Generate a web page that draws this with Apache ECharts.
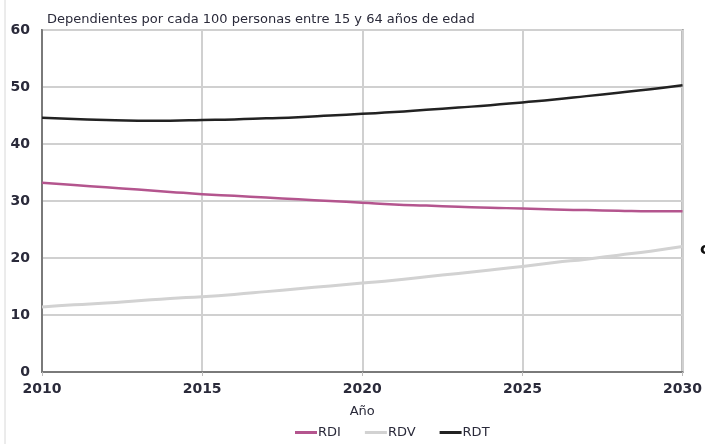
<!DOCTYPE html>
<html>
<head>
<meta charset="utf-8">
<script src="https://cdn.jsdelivr.net/npm/echarts@6/dist/echarts.min.js"></script>
<style>
  html, body { margin: 0; padding: 0; background: #fff; }
  #main { width: 705px; height: 444px; }
</style>
</head>
<body>
<div id="main"></div>
<script>
// años y series
var years = [2010, 2011, 2012, 2013, 2014, 2015, 2016, 2017, 2018, 2019, 2020,
             2021, 2022, 2023, 2024, 2025, 2026, 2027, 2028, 2029, 2030];
var rdi = [33.2, 32.8, 32.4, 32.0, 31.6, 31.2, 30.9, 30.6, 30.3, 30.0, 29.7,
           29.4, 29.2, 29.0, 28.8, 28.7, 28.5, 28.4, 28.3, 28.2, 28.2];
var rdv = [11.4, 11.8, 12.1, 12.5, 12.9, 13.2, 13.6, 14.1, 14.6, 15.1, 15.6,
           16.1, 16.7, 17.3, 17.9, 18.5, 19.2, 19.8, 20.5, 21.2, 22.0];
var rdt = [44.6, 44.4, 44.2, 44.1, 44.1, 44.2, 44.3, 44.5, 44.7, 45.0, 45.3,
           45.6, 46.0, 46.4, 46.8, 47.3, 47.8, 48.4, 49.0, 49.6, 50.3];
var seriesNames = ['RDI', 'RDV', 'RDT'];
var lineColor = ['#b4558e', '#d2d2d2', '#222222'];

function pairs(vals) {
    return years.map(function (y, i) { return [y, vals[i]]; });
}

var myChart = echarts.init(document.getElementById('main'));
var font = 'DejaVu Sans';

var series = [rdi, rdv, rdt].map(function (vals, i) {
    return {
        name: seriesNames[i],
        type: 'line',
        smooth: true,
        symbol: 'none',
        data: pairs(vals),
        lineStyle: { color: lineColor[i], width: i === 1 ? 3 : 2.5 },
        itemStyle: { color: lineColor[i] }
    };
});

var option = {
    backgroundColor: '#fff',
    animation: false,
    title: {
        text: 'Dependientes por cada 100 personas entre 15 y 64 años de edad',
        left: 42,
        top: 8,
        textStyle: { fontFamily: font, fontSize: 13, fontWeight: 'normal', color: '#2a2a3a' }
    },
    grid: {
        left: 42, right: 22, top: 30, bottom: 72,
        show: true,
        borderColor: '#7a7a7a',
        borderWidth: 2
    },
    legend: {
        data: seriesNames,
        bottom: 0,
        left: 290,
        icon: 'rect',
        itemWidth: 22,
        itemHeight: 3,
        itemGap: 24,
        textStyle: { fontFamily: font, fontSize: 13, color: '#2a2a3a', padding: [0, 0, 0, -4] }
    },
    xAxis: {
        type: 'value',
        min: 2010,
        max: 2030,
        interval: 5,
        name: 'Año',
        nameLocation: 'middle',
        nameGap: 33,
        nameTextStyle: { fontFamily: font, fontSize: 13, color: '#2a2a3a' },
        axisLine: { show: true, lineStyle: { color: '#7a7a7a', width: 2 } },
        axisTick: { show: true, length: 4, lineStyle: { color: '#bbb' } },
        axisLabel: {
            fontFamily: font, fontSize: 14, fontWeight: 'bold', color: '#2a2a3a', margin: 10,
            formatter: function (v) { return String(v); }
        },
        splitLine: { show: true, lineStyle: { color: '#d0d0d0', width: 2 } }
    },
    yAxis: {
        type: 'value',
        min: 0,
        max: 60,
        interval: 10,
        axisLine: { show: true, lineStyle: { color: '#7a7a7a', width: 2 } },
        axisTick: { show: false },
        axisLabel: { fontFamily: font, fontSize: 14, fontWeight: 'bold', color: '#2a2a3a', margin: 12 },
        splitLine: { show: true, lineStyle: { color: '#d0d0d0', width: 2 } }
    },
    graphic: [
        { type: 'line', shape: { x1: 5, y1: 0, x2: 5, y2: 444 }, style: { stroke: '#d8d8d8', lineWidth: 1 } },
        { type: 'text', left: 700, top: 242, style: { text: 'c', fontFamily: font, fontSize: 16, fontWeight: 'bold', fill: '#111' } }
    ],
    series: series
};

myChart.setOption(option);
</script>
</body>
</html>
